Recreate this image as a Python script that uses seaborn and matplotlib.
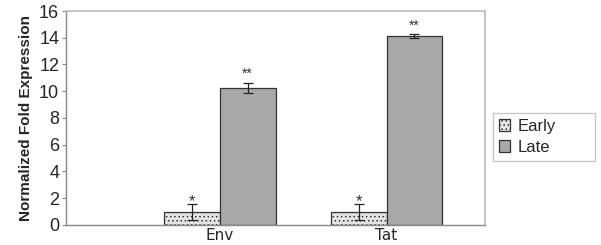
import numpy as np
import pandas as pd
import matplotlib
matplotlib.use('Agg')
import matplotlib.pyplot as plt
import seaborn as sns

genes = ["Env", "Tat"]
stages = ["Early", "Late"]
early_vals = [1.0, 1.0]
late_vals = [10.25, 14.1]
early_err = [0.6, 0.6]
late_err = [0.35, 0.15]
early_sig = ["*", "*"]
late_sig = ["**", "**"]

colors = {"Early": "#e4e4e4", "Late": "#a8a8a8"}

df = pd.DataFrame({
    "gene": genes * 2,
    "stage": ["Early"] * 2 + ["Late"] * 2,
    "value": early_vals + late_vals,
    "err": early_err + late_err,
    "sig": early_sig + late_sig,
})

sns.set_style("white")
plt.rcParams['font.family'] = ['Liberation Sans', 'DejaVu Sans']
plt.rcParams['hatch.color'] = "#c0c0c0"
plt.rcParams['hatch.linewidth'] = 0.6

fig = plt.figure(figsize=(6.01, 2.45), dpi=100)
ax = fig.add_axes([0.11, 0.082, 0.697, 0.873])

sns.barplot(data=df, x="gene", y="value", hue="stage", hue_order=stages,
            order=genes, palette=colors, width=0.67, edgecolor="#333333",
            linewidth=0.9, errorbar=None, ax=ax, legend=True)

# error bars, hatching and significance marks
for stage, cont in zip(stages, ax.containers):
    sub = df[df["stage"] == stage].set_index("gene").loc[genes]
    for bar, (_, row) in zip(cont.patches, sub.iterrows()):
        if stage == "Early":
            bar.set_hatch("....")
            if hasattr(bar, "set_hatchcolor"):
                bar.set_hatchcolor("#c0c0c0")
        cx = bar.get_x() + bar.get_width() / 2
        ax.errorbar(cx, row["value"], yerr=row["err"], fmt="none",
                    ecolor="#222222", elinewidth=0.9, capsize=3.5, capthick=0.9)
        off = -0.45 if stage == "Early" else 0.15
        ax.text(cx, row["value"] + row["err"] + off, row["sig"], ha="center",
                va="bottom", fontsize=12 if stage == "Early" else 10,
                color="#333333")

ax.set_xlim(-0.92, 1.59)
ax.set_ylim(0, 16)
ax.set_yticks(np.arange(0, 17, 2))
ax.set_xlabel("")
ax.set_ylabel("Normalized Fold Expression", fontsize=11, fontweight="bold",
              labelpad=4)
ax.tick_params(axis="y", labelsize=13, length=3, left=True, color="#888888",
               pad=2)
ax.tick_params(axis="x", labelsize=11, length=0, pad=2)
for lab in ax.get_xticklabels():
    lab.set_family("DejaVu Sans")

for side in ["top", "right"]:
    ax.spines[side].set_color("#bbbbbb")
    ax.spines[side].set_linewidth(1.2)
for side in ["left", "bottom"]:
    ax.spines[side].set_color("#888888")
    ax.spines[side].set_linewidth(1.0)

handles, labels = ax.get_legend_handles_labels()
handles[0].set_hatch("....")
ax.legend(handles, labels, loc="upper left",
          bbox_to_anchor=(1.019, 0.294, 0.243, 0.229), mode="expand",
          frameon=True, fancybox=False, edgecolor="#bbbbbb", fontsize=12,
          handlelength=0.7, handleheight=0.7, handletextpad=0.4,
          borderpad=0.35, labelspacing=0.35, borderaxespad=0)

fig.savefig("out.png", dpi=100)
